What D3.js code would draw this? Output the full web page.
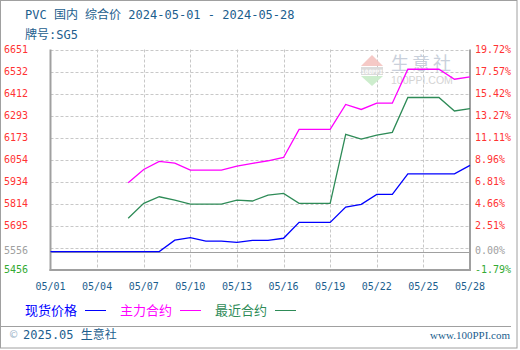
<!DOCTYPE html>
<html>
<head>
<meta charset="utf-8">
<script src="https://cdn.jsdelivr.net/npm/d3@7"></script>
<style>
  body { margin: 0; background: #fff; }
  text { font-family: "DejaVu Sans Mono", "Noto Sans CJK SC", monospace; }
</style>
</head>
<body>
<svg width="520" height="350"></svg>
<script>
// daily prices, PVC SG5, 2024-05-01 .. 2024-05-28
var days = ["2024-05-01","2024-05-02","2024-05-03","2024-05-04","2024-05-05","2024-05-06","2024-05-07",
            "2024-05-08","2024-05-09","2024-05-10","2024-05-11","2024-05-12","2024-05-13","2024-05-14",
            "2024-05-15","2024-05-16","2024-05-17","2024-05-18","2024-05-19","2024-05-20","2024-05-21",
            "2024-05-22","2024-05-23","2024-05-24","2024-05-25","2024-05-26","2024-05-27","2024-05-28"];
var spot = [5556,5556,5556,5556,5556,5556,5556,5556,5618,5631,5613,5613,5606,5617,
            5617,5628,5714,5714,5714,5797,5812,5866,5866,5977,5977,5977,5977,6023];
var mainContract = [null,null,null,null,null,5929,6001,6045,6035,5997,5997,5997,6019,6034,
            6048,6066,6218,6218,6218,6353,6326,6360,6360,6544,6544,6544,6490,6503];
var nearContract = [null,null,null,null,null,5736,5817,5853,5835,5813,5813,5813,5835,5830,
            5862,5871,5817,5817,5817,6191,6165,6187,6202,6391,6391,6391,6318,6331];

var priceTicks = [6651,6532,6412,6293,6173,6054,5934,5814,5695];
var pctTicks = [19.72,17.57,15.42,13.27,11.11,8.96,6.81,4.66,2.51];
var xTickDays = ["2024-05-01","2024-05-04","2024-05-07","2024-05-10","2024-05-13",
                 "2024-05-16","2024-05-19","2024-05-22","2024-05-25","2024-05-28"];
var basePrice = 5556, minPrice = 5456, maxPrice = 6651;
var minPct = -1.79, maxPct = 19.72;

var series = [
  {name: "现货价格", values: spot, color: "#0000ff"},
  {name: "主力合约", values: mainContract, color: "#ff00ff"},
  {name: "最近合约", values: nearContract, color: "#2e8b57"}
];

var svg = d3.select("svg");
var parse = d3.timeParse("%Y-%m-%d");
var plotL = 50.5, plotR = 470, plotT = 49.5, plotB = 270;

var x = d3.scaleTime().domain([parse(days[0]), parse(days[days.length-1])]).range([plotL, plotR]);
var y = d3.scaleLinear().domain([minPrice, maxPrice]).range([plotB, plotT]);
var yPct = d3.scaleLinear().domain([minPct, maxPct]).range([plotB, plotT]);

// outer frame and footer separator
svg.append("rect").attr("x", 0.5).attr("y", 0.5).attr("width", 516.5).attr("height", 347.5)
  .attr("fill", "none").attr("stroke", "#a0a0a0");
svg.append("line").attr("x1", 0).attr("x2", 511).attr("y1", 326.5).attr("y2", 326.5)
  .attr("stroke", "#a0a0a0");

// title
svg.append("text").attr("x", 25).attr("y", 19).attr("fill", "#1c5e8e").style("font-size", "12px")
  .text("PVC 国内 综合价 2024-05-01 - 2024-05-28");
svg.append("text").attr("x", 25).attr("y", 39).attr("fill", "#1c5e8e").style("font-size", "12px")
  .text("牌号:SG5");

// horizontal dashed grid
var gridVals = d3.range(0, 10).map(function(i) { return minPrice + (i + 1) * (maxPrice - minPrice) / 10; });
svg.selectAll(".hgrid").data(gridVals).enter().append("line")
  .attr("x1", plotL).attr("x2", plotR)
  .attr("y1", function(d) { return Math.round(y(d)) + 0.5; })
  .attr("y2", function(d) { return Math.round(y(d)) + 0.5; })
  .attr("stroke", "#c8c8c8").attr("stroke-dasharray", "3,2");

// vertical dashed grid
svg.selectAll(".vgrid").data(xTickDays.slice(1, -1)).enter().append("line")
  .attr("x1", function(d) { return Math.round(x(parse(d))) + 0.5; })
  .attr("x2", function(d) { return Math.round(x(parse(d))) + 0.5; })
  .attr("y1", plotT).attr("y2", plotB)
  .attr("stroke", "#c8c8c8").attr("stroke-dasharray", "3,2");

// watermark
var wm = svg.append("g").attr("opacity", 0.9);
wm.append("path").attr("d", "M372,55 L383,66 L361,66 Z").attr("fill", "#f4c4c0");
wm.append("rect").attr("x", 361).attr("y", 67).attr("width", 22).attr("height", 8).attr("fill", "#d8d8d8");
wm.append("text").attr("x", 372).attr("y", 74).attr("text-anchor", "middle").attr("fill", "#fff")
  .style("font-size", "6px").style("font-weight", "bold").text("100PPI");
wm.append("path").attr("d", "M361,76 L383,76 L372,86 Z").attr("fill", "#c8ecc8");
wm.append("text").attr("x", 391).attr("y", 70).attr("fill", "#c4ccd8")
  .style("font-size", "18px").style("letter-spacing", "3px")
  .style("font-family", "'Noto Sans CJK SC'").text("生意社");
wm.append("text").attr("x", 391).attr("y", 84).attr("fill", "#d0d0d0")
  .style("font-size", "10.5px").style("font-family", "'Liberation Sans'").text("100PPI.COM");

// plot frame
svg.append("line").attr("x1", plotL).attr("x2", plotL).attr("y1", plotT).attr("y2", plotB + 1)
  .attr("stroke", "#a0a0a0").attr("stroke-width", 2);
svg.append("line").attr("x1", plotR).attr("x2", plotR).attr("y1", plotT).attr("y2", plotB + 1)
  .attr("stroke", "#a0a0a0").attr("stroke-width", 2);
svg.append("line").attr("x1", plotL - 1).attr("x2", plotR + 1).attr("y1", plotB).attr("y2", plotB)
  .attr("stroke", "#a0a0a0").attr("stroke-width", 2);
svg.append("line").attr("x1", plotL).attr("x2", plotR)
  .attr("y1", Math.round(y(basePrice)) + 0.5).attr("y2", Math.round(y(basePrice)) + 0.5)
  .attr("stroke", "#a0a0a0").attr("stroke-width", 1);

// series lines
var line = d3.line()
  .defined(function(d) { return d.v != null; })
  .x(function(d) { return x(d.t); })
  .y(function(d) { return y(d.v); });

series.forEach(function(s) {
  var pts = s.values.map(function(v, i) { return {t: parse(days[i]), v: v}; });
  svg.append("path").datum(pts).attr("d", line)
    .attr("fill", "none").attr("stroke", s.color).attr("stroke-width", 1.3);
});

// left axis labels
var axisFont = "10px";
svg.selectAll(".ltick").data(priceTicks).enter().append("text")
  .attr("x", 4).attr("y", function(d) { return y(d) + 3.5; })
  .attr("fill", "#ff3333").style("font-size", axisFont)
  .text(function(d) { return d; });
svg.append("text").attr("x", 4).attr("y", y(basePrice) + 2.5).attr("fill", "#a0a0a0")
  .style("font-size", axisFont).text(basePrice);
svg.append("text").attr("x", 4).attr("y", y(minPrice) + 3).attr("fill", "#33aa33")
  .style("font-size", axisFont).text(minPrice);

// right axis labels
svg.selectAll(".rtick").data(pctTicks).enter().append("text")
  .attr("x", 475).attr("y", function(d) { return yPct(d) + 3.5; })
  .attr("fill", "#ff3333").style("font-size", axisFont)
  .text(function(d) { return d.toFixed(2) + "%"; });
svg.append("text").attr("x", 475).attr("y", yPct(0) + 2.5).attr("fill", "#a0a0a0")
  .style("font-size", axisFont).text("0.00%");
svg.append("text").attr("x", 475).attr("y", yPct(minPct) + 3).attr("fill", "#33aa33")
  .style("font-size", axisFont).text(minPct.toFixed(2) + "%");

// x axis labels
svg.selectAll(".xtick").data(xTickDays).enter().append("text")
  .attr("x", function(d) { return x(parse(d)); }).attr("y", 290)
  .attr("text-anchor", "middle").attr("fill", "#1c5e8e").style("font-size", axisFont)
  .text(function(d) { return d3.timeFormat("%m/%d")(parse(d)); });

// legend
var legendX = [25, 120, 215];
series.forEach(function(s, i) {
  svg.append("text").attr("x", legendX[i]).attr("y", 315).attr("fill", s.color)
    .style("font-size", "13px").style("font-family", "'Noto Sans CJK SC'").text(s.name);
  svg.append("line").attr("x1", legendX[i] + 60).attr("x2", legendX[i] + 81)
    .attr("y1", 310.5).attr("y2", 310.5).attr("stroke", s.color).attr("stroke-width", 1);
});

// footer
svg.append("text").attr("x", 10).attr("y", 339).attr("fill", "#9cb4c8").style("font-size", "12px").text("©");
svg.append("text").attr("x", 23).attr("y", 339).attr("fill", "#1c5e8e").style("font-size", "12px").text("2025.05 生意社");
svg.append("text").attr("x", 510).attr("y", 339).attr("text-anchor", "end").attr("fill", "#1c5e8e")
  .style("font-size", "11px").style("font-family", "'Liberation Serif'").text("www.100PPI.com");
</script>
</body>
</html>
